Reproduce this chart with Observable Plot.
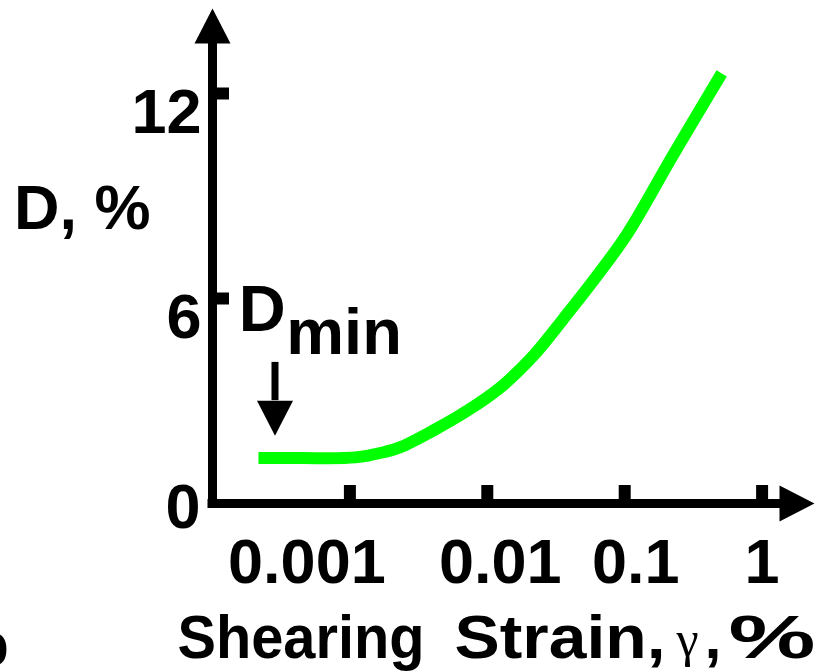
<!DOCTYPE html>
<html>
<head>
<meta charset="utf-8">
<script src="https://cdn.jsdelivr.net/npm/d3@7"></script>
<script src="https://cdn.jsdelivr.net/npm/@observablehq/plot@0.6"></script>
<style>
  html, body { margin: 0; padding: 0; background: #fff; }
  #chart svg { display: block; }
</style>
</head>
<body>
<div id="chart"></div>
<script>
// ---- data ----
const strain  = [0.000216, 0.000437, 0.001098, 0.001756, 0.002335, 0.00406, 0.00718, 0.01248, 0.02169, 0.03586, 0.05928, 0.1043, 0.2235, 0.508];
const damping = [1.33,     1.33,     1.35,     1.50,     1.65,     2.14,    2.72,    3.40,    4.33,    5.41,    6.53,    7.89,   10.18,  12.59];

const xTicks      = [0.001, 0.01, 0.1, 1];
const xTickLabels = ["0.001", "0.01", "0.1", "1"];
const yTickMarks  = [6, 12];
const yTickLabels = [0, 6, 12];

const xTitleA  = "Shearing";
const xTitleB  = "Strain,";
const xSymbol  = "γ";
const yTitle   = "D, %";
const dminMain = "D";
const dminSub  = "min";
const dminArrow = { strain: 0.000285, top: 4.13, base: 3.01 };

// ---- layout ----
const W = 828, H = 671;
const xMin = 1e-4;
const sans = "'Liberation Sans', Arial, Helvetica, sans-serif";
const serif = "'Liberation Serif', 'Times New Roman', serif";
const xLabelDx = [-43, 13, 11, 0];

const headShape = {
  draw(ctx) {
    ctx.moveTo(0, -35);
    ctx.lineTo(18, 0);
    ctx.lineTo(-18, 0);
    ctx.closePath();
  }
};

const curveData = strain.map((s, i) => ({ s, d: damping[i] }));

const frameW = W - 212 - 49;
const frameH = H - 43 - 168;

const txt = (value, opts) => Plot.text([value], { text: d => d, fill: "#000", lineAnchor: "bottom", ...opts });

const plot = Plot.plot({
  width: W,
  height: H,
  marginLeft: 212,
  marginTop: 43,
  marginRight: 49,
  marginBottom: 168,
  x: { type: "log", domain: [xMin, 1], range: [212, 761.6], axis: null },
  y: { domain: [0, 12], range: [503, 93], axis: null },
  style: { fontFamily: sans, fontWeight: "bold", background: "#fff", color: "#000", overflow: "visible" },
  marks: [
    // axes
    Plot.ruleX([xMin], { x: d => d, stroke: "#000", strokeWidth: 9, strokeLinecap: "square" }),
    Plot.ruleY([0], { y: d => d, stroke: "#000", strokeWidth: 9, strokeLinecap: "square" }),
    Plot.dot([0], { frameAnchor: "top-left", symbol: headShape, fill: "#000", stroke: null }),
    Plot.dot([0], { frameAnchor: "bottom-right", symbol: headShape, rotate: 90, fill: "#000", stroke: null }),
    // ticks
    Plot.tickX(xTicks, { x: d => d, insetTop: frameH - 18, stroke: "#000", strokeWidth: 12 }),
    Plot.tickY(yTickMarks, { y: d => d, insetRight: frameW - 17, stroke: "#000", strokeWidth: 12 }),
    // tick labels
    ...xTicks.map((t, i) => Plot.text([t], {
      x: d => d, text: () => xTickLabels[i], frameAnchor: "bottom",
      dx: xLabelDx[i], dy: 79, lineAnchor: "bottom", fontSize: 63, fill: "#000"
    })),
    Plot.text(yTickLabels.filter(v => v > 0), {
      y: d => d, text: d => String(d), frameAnchor: "left", textAnchor: "end",
      dx: -11, dy: 39, lineAnchor: "bottom", fontSize: 63, fill: "#000"
    }),
    Plot.text(yTickLabels.filter(v => v === 0), {
      y: d => d, text: d => String(d), frameAnchor: "left", textAnchor: "end",
      dx: -12, dy: 24, lineAnchor: "bottom", fontSize: 63, fill: "#000"
    }),
    // curve
    Plot.line(curveData, {
      x: "s", y: "d", stroke: "#00ff00", strokeWidth: 12,
      curve: "catmull-rom", strokeLinecap: "butt", strokeLinejoin: "round"
    }),
    // Dmin arrow and label
    Plot.ruleX([dminArrow], { x: "strain", y1: "top", y2: "base", stroke: "#000", strokeWidth: 7 }),
    Plot.dot([dminArrow], { x: "strain", y: "base", symbol: headShape, rotate: 180, fill: "#000", stroke: null }),
    txt(dminMain, { frameAnchor: "top-left", textAnchor: "start", dx: 26.3, dy: 287, fontSize: 65 }),
    txt(dminSub,  { frameAnchor: "top-left", textAnchor: "start", dx: 73.8, dy: 310, fontSize: 65 }),
    // y title
    txt(yTitle, { frameAnchor: "top-left", textAnchor: "start", dx: -198.5, dy: 185, fontSize: 63 }),
    // x title
    txt(xTitleA, { frameAnchor: "bottom-left", textAnchor: "start", dx: -35, dy: 154, fontSize: 61 }),
    txt(xTitleB, { frameAnchor: "bottom-left", textAnchor: "start", dx: 242, dy: 154, fontSize: 61 }),
    txt(xSymbol, { frameAnchor: "bottom-left", textAnchor: "start", dx: 464, dy: 152, fontSize: 50, fontWeight: "normal", fontFamily: serif }),
    txt(",", { frameAnchor: "bottom-left", textAnchor: "start", dx: 492, dy: 154, fontSize: 61 }),
    txt("%", { frameAnchor: "bottom-left", textAnchor: "start", dx: 516, dy: 154, fontSize: 61 }),
    // cropped fragment at lower-left edge
    txt("b", { frameAnchor: "bottom-left", textAnchor: "end", dx: -203.6, dy: 161, fontSize: 60 })
  ]
});

// stretch title pieces to the widths seen in the reference
const stretch = { "Shearing": 247, "Strain,": 211, "%": 87 };
d3.select(plot).selectAll("text").each(function () {
  const t = this.textContent;
  if (Object.prototype.hasOwnProperty.call(stretch, t)) {
    d3.select(this).attr("textLength", stretch[t]).attr("lengthAdjust", "spacingAndGlyphs");
  }
});
document.getElementById("chart").appendChild(plot);
</script>
</body>
</html>
